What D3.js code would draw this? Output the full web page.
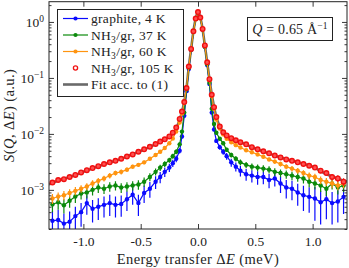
<!DOCTYPE html>
<html>
<head>
<meta charset="utf-8">
<script src="https://cdn.jsdelivr.net/npm/d3@7"></script>
<style>
  body { margin: 0; background: #fff; }
  svg { display: block; font-family: "Liberation Serif", serif; }
  .tick text { font-family: "Liberation Serif", serif; }
</style>
</head>
<body>
<svg id="chart"></svg>
<script>
// energy transfer grid (meV)
const energy = [-1.27, -1.22, -1.17, -1.12, -1.07, -1.02, -0.97, -0.92, -0.87, -0.82, -0.77, -0.72, -0.67, -0.62, -0.57, -0.52,
    -0.47, -0.42, -0.37, -0.33, -0.29, -0.25, -0.22, -0.19, -0.16, -0.14, -0.12,
    -0.10, -0.08, -0.06, -0.04, -0.02, 0.00, 0.02, 0.04, 0.06, 0.08, 0.10,
    0.12, 0.14, 0.16, 0.19, 0.22, 0.25, 0.29, 0.33, 0.37, 0.42, 0.47, 0.52, 0.57, 0.62, 0.67, 0.72, 0.77, 0.82, 0.87,
    0.92, 0.97, 1.02, 1.07, 1.12, 1.17, 1.22, 1.27];

// graphite, 4 K
const blueVal = [2.8e-4, 2.9e-4, 2.5e-4, 2.7e-4, 3.4e-4, 4.0e-4, 5.8e-4, 4.6e-4, 5.0e-4, 5.4e-4, 5.8e-4, 5.4e-4, 5.6e-4, 6.8e-4, 8.2e-4, 5.8e-4,
    8.8e-4, 1.05e-3, 1.4e-3, 1.7e-3, 2.1e-3, 2.5e-3, 3.0e-3, 3.6e-3, 5.0e-3, 9.0e-3, 2.1e-2,
    0.058, 0.145, 0.32, 0.67, 1.14, 1.5, 1.2, 0.74, 0.36, 0.17, 0.078,
    0.024, 0.012, 0.0075, 0.0058, 0.0048, 0.0040, 0.0031, 0.0026, 0.0022, 0.0019, 0.0018, 0.0017, 0.0017, 0.0015, 0.0016, 0.0013, 0.0011, 0.00105, 0.0009,
    0.0008, 0.00075, 0.0007, 0.0006, 0.00068, 0.00058, 0.00062, 0.00075];
const blueErr = [1.4e-4, 1.5e-4, 1.3e-4, 1.4e-4, 1.6e-4, 1.8e-4, 2.2e-4, 2.0e-4, 2.1e-4, 2.2e-4, 2.4e-4, 2.2e-4, 2.3e-4, 2.6e-4, 2.8e-4, 2.4e-4,
    3.0e-4, 3.3e-4, 3.6e-4, 3.8e-4, 4.0e-4, 4.2e-4, 4.5e-4, 5.0e-4, 5.5e-4, 7e-4, 1e-3,
    0, 0, 0, 0, 0, 0, 0, 0, 0, 0, 0,
    1.2e-3, 8e-4, 6.5e-4, 6e-4, 5.8e-4, 5.5e-4, 5e-4, 4.8e-4, 4.6e-4, 4.5e-4, 4.4e-4, 4.6e-4, 4.4e-4, 4.3e-4, 4.5e-4, 4.2e-4, 4.0e-4,
    4.0e-4, 3.8e-4, 3.8e-4, 3.6e-4, 4.2e-4, 3.6e-4, 3.8e-4, 3.4e-4, 3.6e-4, 3.8e-4];

// NH3/gr, 37 K
const greenVal = [5.5e-4, 6.0e-4, 5.3e-4, 6.4e-4, 7.6e-4, 8.6e-4, 9.0e-4, 1.0e-3, 1.1e-3, 1.05e-3, 1.15e-3, 1.2e-3, 1.1e-3, 1.15e-3, 1.2e-3, 1.25e-3,
    1.4e-3, 1.7e-3, 2.1e-3, 2.5e-3, 2.9e-3, 3.4e-3, 4.0e-3, 4.8e-3, 6.5e-3, 1.1e-2, 2.4e-2,
    0.062, 0.15, 0.32, 0.67, 1.14, 1.5, 1.2, 0.74, 0.36, 0.175, 0.082,
    0.028, 0.015, 0.0105, 0.0082, 0.0068, 0.0052, 0.0042, 0.0036, 0.0031, 0.0028, 0.0026, 0.0025, 0.0024, 0.0023, 0.0021, 0.0020, 0.0019, 0.0018, 0.0017,
    0.0016, 0.0014, 0.0013, 0.0012, 0.00105, 0.0013, 0.0011, 0.0012];
const greenErr = [1.5e-4, 1.6e-4, 1.5e-4, 1.6e-4, 1.8e-4, 1.9e-4, 2.0e-4, 2.1e-4, 2.2e-4, 2.1e-4, 2.2e-4, 2.3e-4, 2.2e-4, 2.2e-4, 2.3e-4, 2.4e-4,
    2.6e-4, 2.8e-4, 3.0e-4, 3.2e-4, 3.4e-4, 3.6e-4, 4.0e-4, 4.5e-4, 5e-4, 7e-4, 1e-3,
    0, 0, 0, 0, 0, 0, 0, 0, 0, 0, 0,
    1e-3, 7e-4, 6e-4, 5.5e-4, 5e-4, 4.5e-4, 4.2e-4, 4e-4, 3.8e-4, 3.6e-4, 3.5e-4, 3.5e-4, 3.4e-4, 3.4e-4, 3.3e-4, 3.2e-4, 3.2e-4,
    3.1e-4, 3.0e-4, 3.0e-4, 2.9e-4, 2.8e-4, 2.8e-4, 2.7e-4, 2.8e-4, 2.7e-4, 2.8e-4];

// NH3/gr, 60 K
const orangeVal = [7.0e-4, 7.6e-4, 8.0e-4, 8.8e-4, 9.6e-4, 1.05e-3, 1.15e-3, 1.3e-3, 1.45e-3, 1.6e-3, 1.8e-3, 2.0e-3, 2.1e-3, 2.3e-3, 2.6e-3, 2.8e-3,
    3.1e-3, 3.6e-3, 4.2e-3, 4.8e-3, 5.6e-3, 6.8e-3, 8.3e-3, 1.1e-2, 1.6e-2, 2.3e-2, 3.6e-2,
    0.068, 0.16, 0.33, 0.68, 1.15, 1.5, 1.2, 0.75, 0.37, 0.185, 0.092,
    0.047, 0.028, 0.018, 0.0125, 0.0098, 0.0082, 0.0071, 0.0063, 0.0057, 0.0051, 0.0047, 0.0043, 0.0039, 0.0035, 0.0032, 0.0029, 0.0026, 0.0024, 0.0022,
    0.0020, 0.0018, 0.0017, 0.0015, 0.0014, 0.0013, 0.0012, 0.0013];
const orangeErr = [1.4e-4, 1.4e-4, 1.5e-4, 1.5e-4, 1.6e-4, 1.6e-4, 1.7e-4, 1.8e-4, 1.8e-4, 1.9e-4, 2.0e-4, 2.0e-4, 2.1e-4, 2.1e-4, 2.2e-4, 2.3e-4,
    2.4e-4, 2.5e-4, 2.7e-4, 2.8e-4, 3.0e-4, 3.2e-4, 3.5e-4, 4e-4, 5e-4, 6e-4, 8e-4,
    0, 0, 0, 0, 0, 0, 0, 0, 0, 0, 0,
    8e-4, 6e-4, 5e-4, 4.5e-4, 4.2e-4, 4e-4, 3.8e-4, 3.6e-4, 3.5e-4, 3.4e-4, 3.3e-4, 3.2e-4, 3.1e-4, 3.0e-4, 2.9e-4, 2.8e-4, 2.7e-4,
    2.6e-4, 2.6e-4, 2.5e-4, 2.5e-4, 2.4e-4, 2.4e-4, 2.3e-4, 2.3e-4, 2.2e-4, 2.3e-4];

// NH3/gr, 105 K
const redVal = [1.35e-3, 1.5e-3, 1.55e-3, 1.7e-3, 1.85e-3, 2.05e-3, 2.25e-3, 2.45e-3, 2.65e-3, 2.9e-3, 3.1e-3, 3.3e-3, 3.6e-3, 3.95e-3, 4.3e-3, 4.8e-3,
    5.3e-3, 5.9e-3, 6.6e-3, 7.3e-3, 8.0e-3, 9.0e-3, 1.05e-2, 1.3e-2, 1.85e-2, 2.5e-2, 3.7e-2,
    0.066, 0.16, 0.33, 0.68, 1.15, 1.5, 1.2, 0.75, 0.38, 0.19, 0.095,
    0.05, 0.03, 0.02, 0.0135, 0.0107, 0.0094, 0.0084, 0.0077, 0.0071, 0.0065, 0.0058, 0.0053, 0.0049, 0.0045, 0.0041, 0.0038, 0.0035, 0.0033, 0.0031,
    0.0029, 0.0027, 0.0025, 0.0022, 0.0020, 0.0017, 0.0016, 0.0014];
const redErr = [1.2e-4, 1.2e-4, 1.2e-4, 1.3e-4, 1.3e-4, 1.3e-4, 1.4e-4, 1.4e-4, 1.4e-4, 1.5e-4, 1.5e-4, 1.5e-4, 1.6e-4, 1.6e-4, 1.7e-4, 1.7e-4,
    1.8e-4, 1.9e-4, 2.0e-4, 2.1e-4, 2.2e-4, 2.4e-4, 2.6e-4, 3e-4, 4e-4, 5e-4, 7e-4,
    0, 0, 0, 0, 0, 0, 0, 0, 0, 0, 0,
    7e-4, 5e-4, 4e-4, 3.6e-4, 3.4e-4, 3.2e-4, 3.1e-4, 3.0e-4, 2.9e-4, 2.8e-4, 2.7e-4, 2.7e-4, 2.6e-4, 2.6e-4, 2.5e-4, 2.5e-4, 2.4e-4,
    2.4e-4, 2.4e-4, 2.3e-4, 2.3e-4, 2.3e-4, 2.2e-4, 2.2e-4, 2.2e-4, 2.2e-4, 2.2e-4];

// fit acc. to (1), 105 K
const fitEnergy = [-1.3, -1.2, -1.1, -1.0, -0.9, -0.8, -0.7, -0.6, -0.5, -0.4, -0.3, -0.25, -0.2, -0.16, -0.13, -0.1, -0.08, -0.06, -0.04, -0.02,
    0, 0.02, 0.04, 0.06, 0.08, 0.1, 0.13, 0.16, 0.2, 0.25, 0.3, 0.4, 0.5, 0.6, 0.7, 0.8, 0.9, 1.0, 1.1, 1.2, 1.3];
const fitVal = [1.25e-3, 1.52e-3, 1.75e-3, 2.1e-3, 2.5e-3, 2.95e-3, 3.4e-3, 4.1e-3, 4.95e-3, 6.1e-3, 7.8e-3, 9.0e-3, 1.15e-2, 1.8e-2, 3.0e-2, 0.066, 0.16, 0.33, 0.68, 1.15,
    1.5, 1.2, 0.75, 0.38, 0.19, 0.095, 0.039, 0.02, 0.0125, 0.0093, 0.0082, 0.0067, 0.0055, 0.0046, 0.0039, 0.0034, 0.003, 0.0026, 0.0020, 0.00165, 0.0014];

const xTicks = [-1.0, -0.5, 0.0, 0.5, 1.0];
const yTicks = [1e-3, 1e-2, 1e-1, 1];

const series = [
    { label: "graphite, 4 K", color: "#0a0aff", values: blueVal, errors: blueErr, line: true },
    { label: "NH3/gr, 37 K", color: "#0b8a0b", values: greenVal, errors: greenErr, line: true },
    { label: "NH3/gr, 60 K", color: "#ff9410", values: orangeVal, errors: orangeErr, line: true },
    { label: "NH3/gr, 105 K", color: "#f01010", values: redVal, errors: redErr, line: false }
];

const W = 349, H = 268;
const margin = { top: 1.7, right: 2, bottom: 39, left: 49 };
const width = W - margin.left - margin.right;
const height = H - margin.top - margin.bottom;

const svg = d3.select("#chart").attr("width", W).attr("height", H);
const chart = svg.append("g").attr("transform", `translate(${margin.left},${margin.top})`);

const x = d3.scaleLinear().domain([-1.3, 1.3]).range([0, width]);
const y = d3.scaleLog().domain([2e-4, 2.3]).range([height, 0]);

chart.append("clipPath").attr("id", "clip")
    .append("rect").attr("width", width).attr("height", height);

const plot = chart.append("g").attr("clip-path", "url(#clip)");

// fit line (under the data)
const fitLine = d3.line().x((d, i) => x(fitEnergy[i])).y(d => y(d)).curve(d3.curveMonotoneX);
plot.append("path")
    .datum(fitVal)
    .attr("fill", "none")
    .attr("stroke", "#6a6a6a")
    .attr("stroke-width", 2.6)
    .attr("d", fitLine);

const dataLine = d3.line().x((d, i) => x(energy[i])).y(d => y(d));

series.forEach(s => {
    let g = plot.append("g");
    // error bars
    g.selectAll("line.err")
        .data(s.values)
        .join("line")
        .attr("x1", (d, i) => x(energy[i]))
        .attr("x2", (d, i) => x(energy[i]))
        .attr("y1", (d, i) => d - s.errors[i] > 0 ? y(d - s.errors[i]) : height + 5)
        .attr("y2", (d, i) => y(d + s.errors[i]))
        .attr("stroke", s.color)
        .attr("stroke-width", 1.2);
    if (s.line) {
        g.append("path")
            .datum(s.values)
            .attr("fill", "none")
            .attr("stroke", s.color)
            .attr("stroke-width", 1.2)
            .attr("d", dataLine);
        g.selectAll("circle")
            .data(s.values)
            .join("circle")
            .attr("cx", (d, i) => x(energy[i]))
            .attr("cy", d => y(d))
            .attr("r", 2.2)
            .attr("fill", s.color);
    } else {
        g.selectAll("circle")
            .data(s.values)
            .join("circle")
            .attr("cx", (d, i) => x(energy[i]))
            .attr("cy", d => y(d))
            .attr("r", 2.3)
            .attr("fill", "#ff5050")
            .attr("stroke", s.color)
            .attr("stroke-width", 1.4);
    }
});

// axes, ticks inward on all sides
const minorY = y.ticks().filter(v => !yTicks.some(t => Math.abs(t - v) / t < 1e-6));

chart.append("g")
    .attr("transform", `translate(0,${height})`)
    .call(d3.axisBottom(x).tickValues(xTicks).tickSizeInner(-5).tickSizeOuter(0).tickPadding(7)
        .tickFormat(d => d < 0 ? "-" + Math.abs(d).toFixed(1) : d.toFixed(1)))
    .call(g => g.select(".domain").remove())
    .call(g => g.selectAll("text").attr("font-size", 13.5).attr("fill", "#222"));

chart.append("g")
    .call(d3.axisTop(x).tickValues(xTicks).tickSizeInner(-5).tickSizeOuter(0).tickFormat(""))
    .call(g => g.select(".domain").remove());

const yLeft = chart.append("g")
    .call(d3.axisLeft(y).tickValues(yTicks).tickSizeInner(-5).tickSizeOuter(0).tickPadding(5))
    .call(g => g.select(".domain").remove());
yLeft.selectAll(".tick text")
    .attr("font-size", 13.5)
    .attr("fill", "#222")
    .each(function (d) {
        let e = Math.round(Math.log10(d));
        let t = d3.select(this).text("10");
        t.append("tspan")
            .attr("dy", "-0.45em")
            .attr("font-size", 9.5)
            .text(e === 0 ? "0" : "\u2212" + Math.abs(e));
    });

chart.append("g")
    .call(d3.axisLeft(y).tickValues(minorY).tickSizeInner(-2.5).tickSizeOuter(0).tickFormat(""))
    .call(g => g.select(".domain").remove());

chart.append("g")
    .attr("transform", `translate(${width},0)`)
    .call(d3.axisRight(y).tickValues(yTicks).tickSizeInner(-5).tickSizeOuter(0).tickFormat(""))
    .call(g => g.select(".domain").remove());

chart.append("g")
    .attr("transform", `translate(${width},0)`)
    .call(d3.axisRight(y).tickValues(minorY).tickSizeInner(-2.5).tickSizeOuter(0).tickFormat(""))
    .call(g => g.select(".domain").remove());

chart.selectAll(".tick line").attr("stroke", "#222").attr("stroke-width", 0.9);

chart.append("rect")
    .attr("width", width)
    .attr("height", height)
    .attr("fill", "none")
    .attr("stroke", "#222")
    .attr("stroke-width", 1);

// axis labels
const xLabel = svg.append("text")
    .attr("x", margin.left + width / 2)
    .attr("y", 264)
    .attr("text-anchor", "middle")
    .attr("font-size", 14.5)
    .attr("letter-spacing", 0.4)
    .attr("fill", "#222");
xLabel.append("tspan").text("Energy transfer \u0394");
xLabel.append("tspan").attr("font-style", "italic").text("E");
xLabel.append("tspan").text(" (meV)");

const yLabel = svg.append("text")
    .attr("transform", `translate(14,${margin.top + height / 2}) rotate(-90)`)
    .attr("text-anchor", "middle")
    .attr("font-size", 14.5)
    .attr("letter-spacing", 0.4)
    .attr("fill", "#222");
yLabel.append("tspan").attr("font-style", "italic").text("S");
yLabel.append("tspan").text("(");
yLabel.append("tspan").attr("font-style", "italic").text("Q");
yLabel.append("tspan").text(", \u0394");
yLabel.append("tspan").attr("font-style", "italic").text("E");
yLabel.append("tspan").text(") (a.u.)");

// legend
const legend = svg.append("g");
legend.append("rect")
    .attr("x", 57.5).attr("y", 9.5)
    .attr("width", 126).attr("height", 87)
    .attr("fill", "#fff")
    .attr("stroke", "#222")
    .attr("stroke-width", 1);

const legendRows = series.concat([{ label: "Fit acc. to (1)", color: "#6a6a6a", fit: true }]);
legendRows.forEach((s, i) => {
    let ry = 18.5 + i * 16.5;
    let row = legend.append("g");
    if (s.fit) {
        row.append("line").attr("x1", 63).attr("x2", 88).attr("y1", ry).attr("y2", ry)
            .attr("stroke", s.color).attr("stroke-width", 2.6);
    } else if (s.line) {
        row.append("line").attr("x1", 63).attr("x2", 88).attr("y1", ry).attr("y2", ry)
            .attr("stroke", s.color).attr("stroke-width", 1.2);
        row.append("circle").attr("cx", 75.5).attr("cy", ry).attr("r", 2.1).attr("fill", s.color);
    } else {
        row.append("circle").attr("cx", 75.5).attr("cy", ry).attr("r", 2.1)
            .attr("fill", "none").attr("stroke", s.color).attr("stroke-width", 1.3);
    }
    let t = row.append("text").attr("x", 91).attr("y", ry + 4.5)
        .attr("font-size", 13.5).attr("letter-spacing", 0.3).attr("fill", "#222");
    if (s.label.startsWith("NH3")) {
        t.append("tspan").text("NH");
        t.append("tspan").attr("font-size", 9.5).attr("dy", 3).text("3");
        t.append("tspan").attr("dy", -3).text(s.label.slice(3));
    } else {
        t.text(s.label);
    }
});

// Q annotation box
svg.append("rect")
    .attr("x", 247.5).attr("y", 17.5)
    .attr("width", 85).attr("height", 23)
    .attr("fill", "#fff")
    .attr("stroke", "#222")
    .attr("stroke-width", 1);
const qText = svg.append("text")
    .attr("x", 290).attr("y", 33.5)
    .attr("text-anchor", "middle")
    .attr("font-size", 14)
    .attr("letter-spacing", 0.2)
    .attr("fill", "#222");
qText.append("tspan").attr("font-style", "italic").text("Q");
qText.append("tspan").text(" = 0.65 \u00C5");
qText.append("tspan").attr("dy", -5).attr("font-size", 9.5).text("\u22121");
</script>
</body>
</html>
